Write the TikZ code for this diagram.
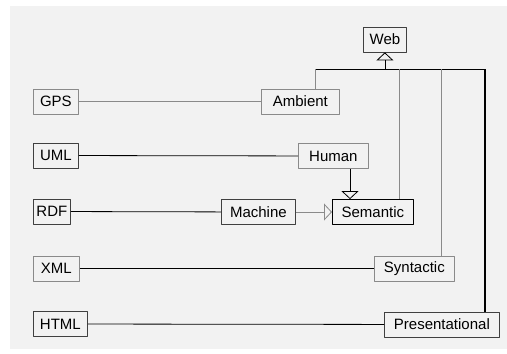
\documentclass[tikz,border=0pt]{standalone}
\usepackage{fontspec}
\setmainfont{Liberation Sans}
\usetikzlibrary{arrows.meta}
\definecolor{bgpanel}{HTML}{F2F2F2}
\definecolor{lite}{HTML}{8A8A8A}
\begin{document}
\begin{tikzpicture}[x=1pt, y=-1pt, line join=round,
	box/.style={draw=black!75, line width=0.8pt, fill=bgpanel, anchor=west,
		minimum height=25pt, inner sep=0pt, font=\fontsize{15}{17}\selectfont},
	litebox/.style={box, draw=lite},
	link/.style={line width=0.8pt, black},
	litelink/.style={line width=0.8pt, lite},
	gen/.style={-{Triangle[open, length=8pt, width=17pt]}}]
	\useasboundingbox (0,0) rectangle (507,354);
	\fill[bgpanel] (10,6) rectangle (507,349);
	% left column
	\node[litebox, minimum width=45pt] (gps) at (33,101.5) {GPS};
	\node[box, minimum width=45pt] (uml) at (33,155.5) {UML};
	\node[box, minimum width=37pt] (rdf) at (33,211.5) {RDF};
	\node[litebox, minimum width=46pt] (xml) at (33,268.5) {XML};
	\node[box, minimum width=54pt] (html) at (33,324) {HTML};
	% right side
	\node[box, minimum width=43pt] (web) at (363,39.5) {Web};
	\node[litebox, minimum width=78pt] (ambient) at (261,101.5) {Ambient};
	\node[litebox, minimum width=70pt] (human) at (298,156) {Human};
	\node[box, minimum width=74pt] (machine) at (221,212) {Machine};
	\node[box, draw=black, minimum width=81pt] (semantic) at (332,212) {Semantic};
	\node[litebox, minimum width=80pt] (syntactic) at (374,268.5) {Syntactic};
	\node[box, minimum width=115pt] (present) at (384,324.5) {Presentational};
	% horizontal links
	\draw[litelink] (gps) -- (ambient);
	\draw[link] (uml) -- (human);
	\draw[link] (rdf) -- (machine);
	\draw[litelink, gen] (machine) -- (semantic);
	\draw[link] (xml) -- (syntactic);
	\draw[link] (html) -- (present);
	% Human onto Semantic
	\coordinate (hs) at (350,0);
	\draw[link, gen] (human.south -| hs) -- (semantic.north -| hs);
	% tree up to Web
	\coordinate (amb) at (315,69);
	\coordinate (sem) at (399,69);
	\coordinate (syn) at (441,69);
	\coordinate (pre) at (485,69);
	\draw[link] (amb) -- (pre);
	\draw[link, gen] (web.south |- amb) -- (web.south);
	\draw[litelink] (amb) -- (amb |- ambient.north);
	\draw[litelink] (sem) -- (sem |- semantic.north);
	\draw[litelink] (syn) -- (syn |- syntactic.north);
	\draw[link, line width=1.2pt] (pre) -- (pre |- present.north);
\end{tikzpicture}
\end{document}
